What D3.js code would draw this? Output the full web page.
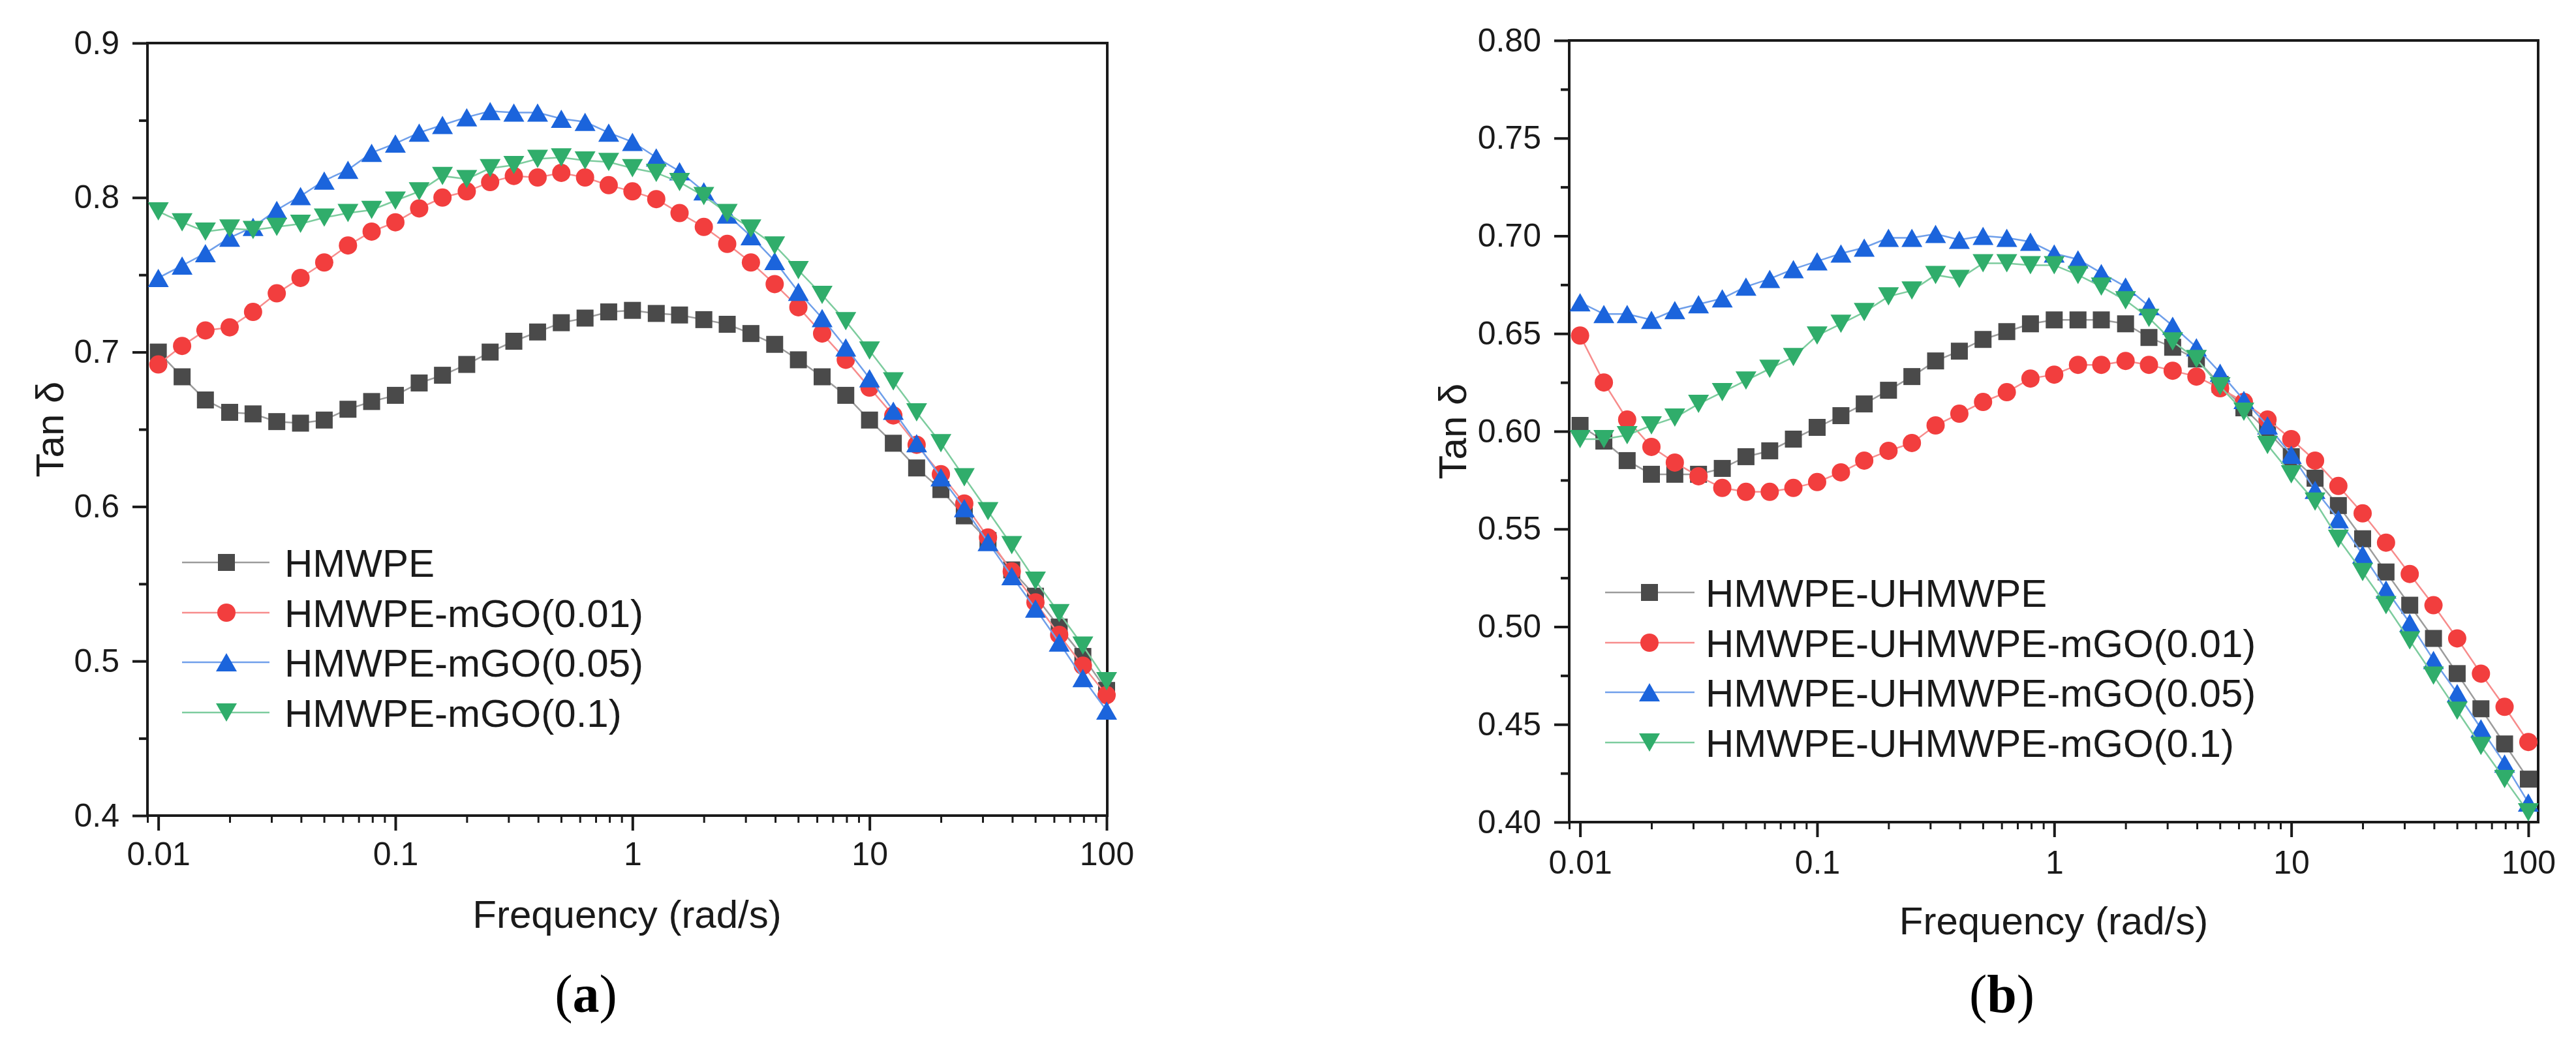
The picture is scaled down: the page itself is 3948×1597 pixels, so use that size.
<!DOCTYPE html>
<html>
<head>
<meta charset="utf-8">
<script src="https://cdn.jsdelivr.net/npm/d3@7/dist/d3.min.js"></script>
<style>
  html, body { margin: 0; padding: 0; background: #ffffff; }
  svg { display: block; }
</style>
</head>
<body>
<script>
// ---------- DATA ----------
const freq = [0.01, 0.0126, 0.0158, 0.02, 0.0251, 0.0316, 0.0398, 0.0501, 0.0631, 0.0794,
  0.1, 0.126, 0.158, 0.2, 0.251, 0.316, 0.398, 0.501, 0.631, 0.794,
  1, 1.26, 1.58, 2, 2.51, 3.16, 3.98, 5.01, 6.31, 7.94,
  10, 12.6, 15.8, 20, 25.1, 31.6, 39.8, 50.1, 63.1, 79.4, 100];

// panel (a)
const namesA = ["HMWPE", "HMWPE-mGO(0.01)", "HMWPE-mGO(0.05)", "HMWPE-mGO(0.1)"];
const a_HMWPE = [0.700,0.684,0.669,0.661,0.660,0.655,0.654,0.656,0.663,0.668,0.672,0.680,0.685,0.692,0.700,0.707,0.713,0.719,0.722,0.726,0.727,0.725,0.724,0.721,0.718,0.712,0.705,0.695,0.684,0.672,0.656,0.641,0.625,0.611,0.594,0.578,0.559,0.542,0.522,0.503,0.481];
const a_mGO001 = [0.692,0.704,0.714,0.716,0.726,0.738,0.748,0.758,0.769,0.778,0.784,0.793,0.800,0.804,0.810,0.814,0.813,0.816,0.813,0.808,0.804,0.799,0.790,0.781,0.770,0.758,0.744,0.729,0.712,0.695,0.677,0.659,0.640,0.621,0.602,0.580,0.558,0.538,0.517,0.497,0.478];
const a_mGO005 = [0.748,0.756,0.764,0.774,0.781,0.792,0.801,0.811,0.818,0.829,0.835,0.842,0.847,0.852,0.856,0.855,0.855,0.851,0.849,0.842,0.836,0.826,0.817,0.804,0.789,0.775,0.759,0.739,0.722,0.703,0.683,0.662,0.641,0.619,0.599,0.577,0.555,0.534,0.512,0.489,0.468];
const a_mGO01 = [0.791,0.784,0.778,0.780,0.779,0.781,0.783,0.787,0.790,0.792,0.798,0.804,0.814,0.812,0.819,0.821,0.825,0.826,0.824,0.823,0.819,0.816,0.810,0.801,0.790,0.780,0.769,0.753,0.737,0.720,0.701,0.681,0.661,0.641,0.619,0.597,0.575,0.552,0.531,0.510,0.487];

// panel (b)
const namesB = ["HMWPE-UHMWPE", "HMWPE-UHMWPE-mGO(0.01)", "HMWPE-UHMWPE-mGO(0.05)", "HMWPE-UHMWPE-mGO(0.1)"];
const b_HU = [0.603,0.595,0.585,0.578,0.578,0.578,0.581,0.587,0.590,0.596,0.602,0.608,0.614,0.621,0.628,0.636,0.641,0.647,0.651,0.655,0.657,0.657,0.657,0.655,0.648,0.643,0.637,0.624,0.612,0.600,0.587,0.576,0.562,0.545,0.528,0.511,0.494,0.476,0.458,0.440,0.422];
const b_mGO001 = [0.649,0.625,0.606,0.592,0.584,0.577,0.571,0.569,0.569,0.571,0.574,0.579,0.585,0.590,0.594,0.603,0.609,0.615,0.620,0.627,0.629,0.634,0.634,0.636,0.634,0.631,0.628,0.622,0.615,0.606,0.596,0.585,0.572,0.558,0.543,0.527,0.511,0.494,0.476,0.459,0.441];
const b_mGO005 = [0.666,0.660,0.660,0.657,0.662,0.665,0.668,0.674,0.678,0.683,0.687,0.691,0.694,0.699,0.699,0.701,0.698,0.700,0.699,0.697,0.691,0.688,0.681,0.674,0.664,0.654,0.643,0.630,0.616,0.603,0.588,0.570,0.555,0.537,0.519,0.502,0.483,0.466,0.448,0.430,0.410];
const b_mGO01 = [0.596,0.596,0.598,0.603,0.607,0.614,0.620,0.626,0.632,0.638,0.649,0.655,0.661,0.669,0.672,0.680,0.678,0.686,0.686,0.685,0.685,0.680,0.674,0.667,0.658,0.646,0.637,0.623,0.610,0.593,0.578,0.564,0.545,0.528,0.511,0.493,0.475,0.457,0.439,0.422,0.405];

// ticks
const xTicks = [0.01, 0.1, 1, 10, 100];
const xTickLabels = ["0.01", "0.1", "1", "10", "100"];
const yTicksA = [0.4, 0.5, 0.6, 0.7, 0.8, 0.9];
const yTickLabelsA = ["0.4", "0.5", "0.6", "0.7", "0.8", "0.9"];
const yTicksB = [0.40, 0.45, 0.50, 0.55, 0.60, 0.65, 0.70, 0.75, 0.80];
const yTickLabelsB = ["0.40", "0.45", "0.50", "0.55", "0.60", "0.65", "0.70", "0.75", "0.80"];
const xTitle = "Frequency (rad/s)";
const yTitle = "Tan δ";

// ---------- STYLE ----------
const styles = [
  { marker: "square",   fill: "#4a4a4a", line: "#9c9c9c" },
  { marker: "circle",   fill: "#f23e3e", line: "#f78c8c" },
  { marker: "triangle", fill: "#1b64dc", line: "#6f9fea" },
  { marker: "tridown",  fill: "#30ad6b", line: "#7dcc9e" }
];

const W = 3948, H = 1597;
const svg = d3.select("body").append("svg")
  .attr("width", W).attr("height", H)
  .attr("viewBox", `0 0 ${W} ${H}`);
svg.append("rect").attr("width", W).attr("height", H).attr("fill", "#ffffff");

const SANS = "'Liberation Sans', Arial, Helvetica, sans-serif";
const SERIF = "'Liberation Serif', 'Times New Roman', serif";

function markerPath(type) {
  if (type === "square") { const r = 13; return `M${-r},${-r}H${r}V${r}H${-r}Z`; }
  if (type === "circle") { return d3.symbol(d3.symbolCircle, Math.PI * 14 * 14)(); }
  const w = 32, h = 28;
  if (type === "triangle") return `M0,${-h/2}L${w/2},${h/2}L${-w/2},${h/2}Z`;
  return `M0,${h/2}L${w/2},${-h/2}L${-w/2},${-h/2}Z`;
}

function minorLogTicks(domain) {
  const out = [];
  for (let e = -3; e <= 2; e++) {
    for (let m = 2; m <= 9; m++) {
      const v = m * Math.pow(10, e);
      if (v >= domain[0] * 0.9999 && v <= domain[1] * 1.0001) out.push(v);
    }
  }
  return out;
}

const panels = [
  {
    x0: 226, x1: 1696, frameRight: 1697, yTop: 66, yBot: 1250,
    xDomain: [0.009, 100], yDomain: [0.4, 0.9],
    yMajor: yTicksA, yLabels: yTickLabelsA, yMinorStep: 0.05,
    series: [a_HMWPE, a_mGO001, a_mGO005, a_mGO01], names: namesA,
    legend: { lx0: 279, lx1: 413, mx: 347, tx: 436, rows: [862, 939, 1015, 1092] },
    xPad: 17, xTitleY: 1422, tanX: 97, tanY: 658,
    tag: "a", tagX: 898, tagY: 1551
  },
  {
    x0: 2405, x1: 3890, frameRight: 3890, yTop: 62, yBot: 1260,
    xDomain: [0.009, 110], yDomain: [0.4, 0.8],
    yMajor: yTicksB, yLabels: yTickLabelsB, yMinorStep: 0.025,
    series: [b_HU, b_mGO001, b_mGO005, b_mGO01], names: namesB,
    legend: { lx0: 2460, lx1: 2597, mx: 2528, tx: 2614, rows: [908, 985, 1061, 1138] },
    xPad: 20, xTitleY: 1432, tanX: 2247, tanY: 661,
    tag: "b", tagX: 3068, tagY: 1551
  }
];

panels.forEach(p => {
  const g = svg.append("g");
  const x = d3.scaleLog().domain(p.xDomain).range([p.x0, p.x1]);
  const y = d3.scaleLinear().domain(p.yDomain).range([p.yBot, p.yTop]);

  // minor y ticks (between majors)
  const yMinor = [];
  for (let i = 0; i < p.yMajor.length - 1; i++) yMinor.push(+(p.yMajor[i] + p.yMinorStep).toFixed(4));

  // x axis minor
  g.append("g").attr("transform", `translate(0,${p.yBot})`)
    .call(d3.axisBottom(x).tickValues(minorLogTicks(p.xDomain)).tickSize(11).tickFormat(""))
    .call(s => s.select(".domain").remove())
    .call(s => s.selectAll(".tick line").attr("stroke", "#1a1a1a").attr("stroke-width", 3));
  // x axis major
  g.append("g").attr("transform", `translate(0,${p.yBot})`)
    .call(d3.axisBottom(x).tickValues(xTicks).tickSize(23).tickPadding(p.xPad)
      .tickFormat((d, i) => xTickLabels[i]))
    .call(s => s.select(".domain").remove())
    .call(s => s.selectAll(".tick line").attr("stroke", "#1a1a1a").attr("stroke-width", 4))
    .call(s => s.selectAll(".tick text").attr("fill", "#1a1a1a")
      .style("font-family", SANS).style("font-size", "50px"));

  // y axis minor
  g.append("g").attr("transform", `translate(${p.x0},0)`)
    .call(d3.axisLeft(y).tickValues(yMinor).tickSize(13).tickFormat(""))
    .call(s => s.select(".domain").remove())
    .call(s => s.selectAll(".tick line").attr("stroke", "#1a1a1a").attr("stroke-width", 4));
  // y axis major
  g.append("g").attr("transform", `translate(${p.x0},0)`)
    .call(d3.axisLeft(y).tickValues(p.yMajor).tickSize(23).tickPadding(20)
      .tickFormat((d, i) => p.yLabels[i]))
    .call(s => s.select(".domain").remove())
    .call(s => s.selectAll(".tick line").attr("stroke", "#1a1a1a").attr("stroke-width", 4))
    .call(s => s.selectAll(".tick text").attr("fill", "#1a1a1a")
      .style("font-family", SANS).style("font-size", "50px"));

  // frame
  g.append("rect")
    .attr("x", p.x0).attr("y", p.yTop)
    .attr("width", p.frameRight - p.x0).attr("height", p.yBot - p.yTop)
    .attr("fill", "none").attr("stroke", "#1a1a1a").attr("stroke-width", 4);

  // series
  const line = d3.line().x((d, i) => x(freq[i])).y(d => y(d));
  p.series.forEach((vals, si) => {
    const st = styles[si];
    const sg = g.append("g");
    sg.append("path").datum(vals).attr("d", line)
      .attr("fill", "none").attr("stroke", st.line).attr("stroke-width", 2.5);
    sg.selectAll("path.m").data(vals).join("path").attr("class", "m")
      .attr("d", markerPath(st.marker))
      .attr("transform", (d, i) => `translate(${x(freq[i])},${y(d)})`)
      .attr("fill", st.fill);
  });

  // legend
  const L = p.legend;
  p.names.forEach((name, si) => {
    const st = styles[si];
    const cy = L.rows[si];
    g.append("line").attr("x1", L.lx0).attr("x2", L.lx1).attr("y1", cy).attr("y2", cy)
      .attr("stroke", st.line).attr("stroke-width", 2.5);
    g.append("path").attr("d", markerPath(st.marker))
      .attr("transform", `translate(${L.mx},${cy})`).attr("fill", st.fill);
    g.append("text").attr("x", L.tx).attr("y", cy + 22)
      .attr("fill", "#1a1a1a").style("font-family", SANS).style("font-size", "60px")
      .text(name);
  });

  // axis titles
  g.append("text").attr("x", (p.x0 + p.x1) / 2).attr("y", p.xTitleY)
    .attr("text-anchor", "middle").attr("fill", "#1a1a1a")
    .style("font-family", SANS).style("font-size", "60px").text(xTitle);
  g.append("text").attr("transform", `translate(${p.tanX},${p.tanY}) rotate(-90)`)
    .attr("text-anchor", "middle").attr("fill", "#1a1a1a")
    .style("font-family", SANS).style("font-size", "60px").text(yTitle);

  // panel tag
  const t = g.append("text").attr("x", p.tagX).attr("y", p.tagY)
    .attr("text-anchor", "middle").attr("fill", "#000")
    .style("font-family", SERIF).style("font-size", "82px");
  t.append("tspan").text("(");
  t.append("tspan").style("font-weight", "bold").text(p.tag);
  t.append("tspan").text(")");
});
</script>
</body>
</html>
